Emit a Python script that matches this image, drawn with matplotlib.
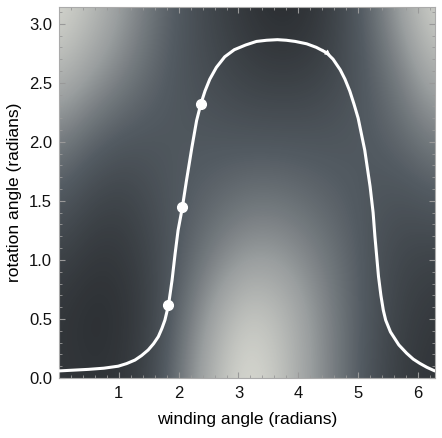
import numpy as np
import matplotlib
matplotlib.use("Agg")
import matplotlib.pyplot as plt
from matplotlib.colors import LinearSegmentedColormap
from matplotlib.ticker import MultipleLocator

plt.rcParams['font.family'] = ['Liberation Sans', 'DejaVu Sans']

# background intensity (rows: rotation angle bottom->top,
# columns: winding angle 0 -> 2pi in steps of pi/6)
bg_x = np.linspace(0, 2 * np.pi, 13)
bg_y = np.linspace(0, np.pi, 7)
bg_z = np.array([
    [0.15, 0.13, 0.14, 0.24, 0.48, 0.75, 0.95, 0.82, 0.60, 0.43, 0.27, 0.17, 0.13],
    [0.14, 0.10, 0.12, 0.21, 0.42, 0.66, 0.84, 0.78, 0.60, 0.43, 0.29, 0.19, 0.15],
    [0.21, 0.15, 0.15, 0.23, 0.35, 0.48, 0.58, 0.58, 0.50, 0.40, 0.29, 0.22, 0.21],
    [0.33, 0.24, 0.21, 0.27, 0.33, 0.37, 0.41, 0.41, 0.38, 0.34, 0.30, 0.29, 0.33],
    [0.50, 0.40, 0.33, 0.31, 0.31, 0.30, 0.29, 0.29, 0.29, 0.30, 0.33, 0.40, 0.50],
    [0.76, 0.62, 0.50, 0.38, 0.29, 0.24, 0.19, 0.17, 0.18, 0.24, 0.35, 0.50, 0.72],
    [0.92, 0.78, 0.60, 0.43, 0.30, 0.21, 0.14, 0.09, 0.12, 0.23, 0.40, 0.65, 0.90],
])

# the white path
path_x = [0.0, 0.49, 0.75, 0.99, 1.13, 1.27, 1.38, 1.49, 1.58, 1.66, 1.72, 1.77,
          1.83, 1.89, 1.94, 1.99, 2.06, 2.13, 2.22, 2.30, 2.37, 2.44, 2.52, 2.63,
          2.77, 2.93, 3.12, 3.30, 3.47, 3.65, 3.80, 3.95, 4.14, 4.30, 4.47, 4.58,
          4.70, 4.78, 4.86, 4.93, 5.00, 5.11, 5.20, 5.25, 5.28, 5.34, 5.38, 5.42,
          5.46, 5.54, 5.68, 5.81, 5.92, 6.03, 6.15, 6.28]
path_y = [0.06, 0.073, 0.083, 0.10, 0.122, 0.152, 0.19, 0.237, 0.29, 0.35, 0.42, 0.49,
          0.617, 0.83, 1.05, 1.25, 1.44, 1.67, 1.95, 2.18, 2.32, 2.43, 2.53, 2.63,
          2.72, 2.78, 2.82, 2.85, 2.86, 2.865, 2.86, 2.85, 2.83, 2.80, 2.755, 2.70,
          2.61, 2.53, 2.43, 2.32, 2.20, 1.93, 1.62, 1.40, 1.20, 0.86, 0.70, 0.575,
          0.49, 0.39, 0.28, 0.21, 0.16, 0.124, 0.09, 0.06]

dots_x = [1.83, 2.06, 2.37]
dots_y = [0.62, 1.45, 2.32]

cmap = LinearSegmentedColormap.from_list(
    'mgray', [(0.0, '#1a1b1d'), (0.33, '#535b62'), (0.6, '#9a9e9f'), (1.0, '#e8e8de')])

fig = plt.figure(figsize=(4.42, 4.38), dpi=100)
ax = fig.add_axes([0.1335, 0.137, 0.8505, 0.847])

dx = bg_x[1] - bg_x[0]
dy = bg_y[1] - bg_y[0]
ax.imshow(bg_z, origin='lower', cmap=cmap, vmin=0, vmax=1, aspect='auto',
          interpolation='bicubic',
          extent=[bg_x[0] - dx / 2, bg_x[-1] + dx / 2, bg_y[0] - dy / 2, bg_y[-1] + dy / 2])

ax.plot(path_x, path_y, color='white', lw=2.2, solid_capstyle='round',
        solid_joinstyle='round', zorder=3)
ax.plot(dots_x, dots_y, 'o', color='white', ms=7, zorder=4)
# small direction barb on the path
ax.annotate('', xy=(4.54, 2.73), xytext=(4.40, 2.785),
            arrowprops=dict(arrowstyle='-|>', color='white', lw=0.5,
                            mutation_scale=9, shrinkA=0, shrinkB=0),
            zorder=4)

ax.set_xlim(0, 2 * np.pi)
ax.set_ylim(0, np.pi)
ax.set_xticks([1, 2, 3, 4, 5, 6])
ax.set_yticks([0.0, 0.5, 1.0, 1.5, 2.0, 2.5, 3.0])
ax.set_yticklabels(['0.0', '0.5', '1.0', '1.5', '2.0', '2.5', '3.0'])
ax.xaxis.set_minor_locator(MultipleLocator(0.2))
ax.yaxis.set_minor_locator(MultipleLocator(0.1))
ax.tick_params(which='both', direction='in', top=True, right=True, color='#999999',
               labelsize=12, labelcolor='#111111')
ax.tick_params(which='major', length=4.5, width=0.8)
ax.tick_params(which='minor', length=2.5, width=0.6)
ax.tick_params(axis='x', pad=6)
ax.tick_params(axis='y', pad=5)
for s in ax.spines.values():
    s.set_color('#aaaaaa')
    s.set_linewidth(0.8)

ax.set_xlabel('winding angle (radians)', fontsize=12.5, labelpad=8)
ax.set_ylabel('rotation angle (radians)', fontsize=12.5, labelpad=5)

fig.savefig('out.png', dpi=100)
